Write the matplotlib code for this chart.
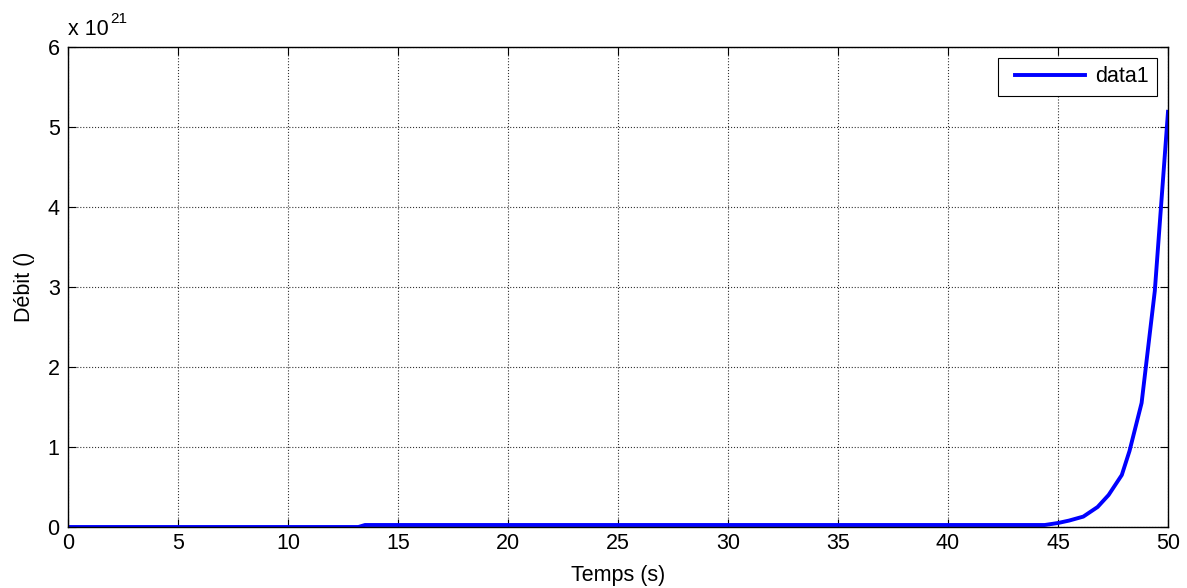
import matplotlib
matplotlib.use('Agg')
import matplotlib.pyplot as plt
from matplotlib.ticker import FuncFormatter
from matplotlib.legend_handler import HandlerLine2D

# Data (debit in units of 1e21)
temps = [0, 13.2, 13.5, 44.4, 45.0, 45.5, 46.15, 46.8, 47.3, 47.9, 48.25, 48.8, 49.4, 50.0]
debit = [0, 0, 0.025, 0.025, 0.05, 0.08, 0.13, 0.25, 0.40, 0.65, 0.95, 1.55, 2.95, 5.19]

x_ticks = list(range(0, 51, 5))
y_ticks = list(range(0, 7))

plt.rcParams['font.family'] = ['Liberation Sans', 'DejaVu Sans']
fs = 15.5

fig = plt.figure(figsize=(11.87, 5.88), dpi=100)
ax = fig.add_axes([68 / 1187, 1 - 527 / 588, 1100 / 1187, 480 / 588])

line, = ax.plot(temps, debit, color='#0000ff', linewidth=2.8, label='data1')

ax.set_xlim(0, 50)
ax.set_ylim(0, 6)
ax.set_xticks(x_ticks)
ax.set_yticks(y_ticks)
ax.yaxis.set_major_formatter(FuncFormatter(lambda v, p: f'{v:g}'))
ax.tick_params(direction='in', top=True, right=True, labelsize=fs, length=6, width=0.8)
ax.tick_params(axis='x', pad=4)
ax.tick_params(axis='y', pad=6)
ax.grid(True, color='#333333', linestyle=':', linewidth=0.8)
for s in ax.spines.values():
    s.set_linewidth(1.0)

ax.set_xlabel('Temps (s)', fontsize=fs, labelpad=8)
ax.set_ylabel('Débit ()', fontsize=fs, labelpad=9)
# exponent label, MATLAB style
ax.text(0.0, 1.025, 'x 10', transform=ax.transAxes, fontsize=fs, ha='left', va='baseline')
ax.text(0.038, 1.05, '21', transform=ax.transAxes, fontsize=11, ha='left', va='baseline')

leg = ax.legend(loc='upper right', fontsize=fs, fancybox=False, framealpha=1,
                edgecolor='black', handlelength=3.65, borderpad=0.4, handletextpad=0.45,
                borderaxespad=0.5, handler_map={line: HandlerLine2D(xpad=0.37)})
leg.get_frame().set_linewidth(0.8)

fig.savefig('out.png', dpi=100)
